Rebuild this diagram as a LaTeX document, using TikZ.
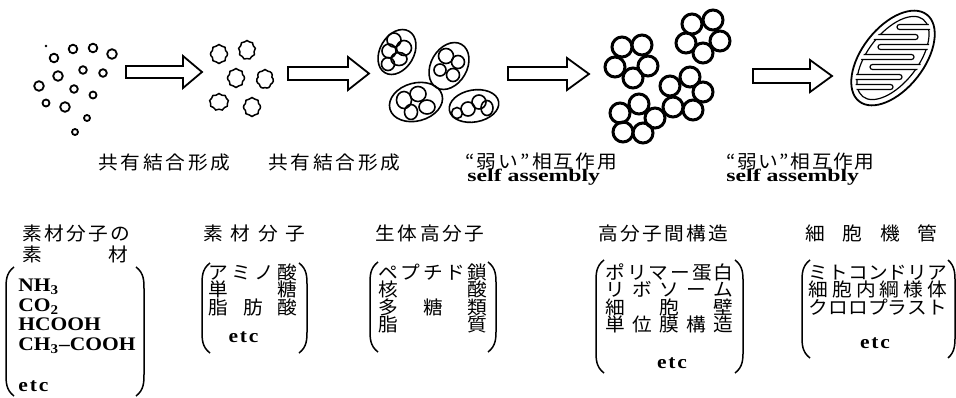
\documentclass[tikz,border=0pt]{standalone}
\usepackage{fontspec}
\setmainfont{Liberation Serif}[FakeStretch=1.12]
\newfontfamily\wideserif{Liberation Serif}[FakeStretch=1.35]
\newfontfamily\jp{Noto Sans CJK JP}[FakeStretch=1.06]
\usepackage{tikz}
\usetikzlibrary{shapes.symbols}

% spread the letters of a word over a given width
\makeatletter
\newcommand{\spreadbox}[2]{\makebox[#1][s]{\spread@#2\relax}}
\def\spread@#1{#1\@ifnextchar\relax{\@gobble}{\hfill\spread@}}
\makeatother

\begin{document}
\begin{tikzpicture}[x=0.5pt,y=-0.5pt,
  jtxt/.style={font=\jp\fontsize{9.3}{11}\selectfont, inner sep=0pt, anchor=base west},
  ltxt/.style={font=\bfseries\fontsize{9.6}{11}\selectfont, inner sep=0pt, anchor=base west},
  etxt/.style={font=\wideserif\bfseries\fontsize{8.8}{10}\selectfont, inner sep=0pt, anchor=base west},
  paren/.style={line width=0.75pt},
  dot/.style={line width=0.9pt},
  blob/.style={cloud, draw, cloud puffs=8, cloud puff arc=120, line width=0.75pt,
    inner sep=0pt, minimum width=8.5pt, minimum height=9.5pt},
  poly/.style={line width=0.8pt},
  ball/.style={line width=1.5pt},
  fatarrow/.style={line width=0.9pt, line join=miter},
  crista/.style={draw, fill=white, line width=0.6pt, rounded corners=1.25pt}]

\useasboundingbox (0,0) rectangle (956,397);

% small molecules
\fill (46,46) circle (1.3);
\draw[dot] (73,49) circle (4.3);
\draw[dot] (93,48) circle (4.3);
\draw[dot] (112,54) circle (4.8);
\draw[dot] (54,58) circle (4.3);
\draw[dot] (83,70) circle (3.8);
\draw[dot] (103,73) circle (3.8);
\draw[dot] (58,76) circle (4.8);
\draw[dot] (39,86) circle (4.8);
\draw[dot] (74,89) circle (3.8);
\draw[dot] (93,95) circle (3.5);
\draw[dot] (46,103) circle (3.5);
\draw[dot] (65,107) circle (4.8);
\draw[dot] (87,118) circle (3);
\draw[dot] (75,132) circle (3);

% monomers
\node[blob] (m1) at (219,54) {};
\node[blob, cloud puffs=9] (m2) at (247,50) {};
\node[blob] (m3) at (236,78) {};
\node[blob, cloud puffs=7] (m4) at (265,79) {};
\node[blob, cloud puffs=9, minimum width=9.5pt, minimum height=8.5pt] (m5) at (219,102) {};
\node[blob] (m6) at (252,107) {};

% polymers
\begin{scope}[shift={(397,52)}, poly]
  \draw[rotate=60] (0,0) ellipse (24 and 17);
  \draw (-3,-12) circle (7);
  \draw (7,-4) circle (7.5);
  \draw (-8,-1) circle (7);
  \draw (2,7) ellipse (8 and 6.5);
  \draw (-9,12) circle (6.5);
\end{scope}
\begin{scope}[shift={(449,66)}, poly]
  \draw[rotate=60] (0,0) ellipse (25 and 18);
  \draw (-3,-10) circle (7.5);
  \draw (9,-4) circle (6.5);
  \draw (-9,4) circle (6);
  \draw (4,9) circle (6.5);
\end{scope}
\begin{scope}[shift={(416,102)}, poly]
  \draw[rotate=15] (0,0) ellipse (27 and 19);
  \draw (-12,-2) ellipse (7.5 and 8.5);
  \draw (2,-8) ellipse (8 and 7.5);
  \draw (-5,10) ellipse (6.5 and 7.5);
  \draw (11,5) ellipse (8 and 7);
\end{scope}
\begin{scope}[shift={(474,106)}, poly]
  \draw[rotate=10] (0,0) ellipse (25 and 16);
  \draw (-6,3) circle (7);
  \draw (5,-4) circle (7);
  \draw (-17,7) circle (5.5);
  \draw (13,2) ellipse (6 and 7.5);
\end{scope}

% rings of polymers
\draw[ball] (622,47) circle (10);
\draw[ball] (642,45) circle (10);
\draw[ball] (648,66) circle (10);
\draw[ball] (633,78) circle (10);
\draw[ball] (615,67) circle (10);

\draw[ball] (692,24) circle (10);
\draw[ball] (713,20) circle (10);
\draw[ball] (720,41) circle (10);
\draw[ball] (703,53) circle (10);
\draw[ball] (686,43) circle (10);

\draw[ball] (670,86) circle (10);
\draw[ball] (690,77) circle (10);
\draw[ball] (703,92) circle (10);
\draw[ball] (693,110) circle (10);
\draw[ball] (673,107) circle (10);

\draw[ball] (620,113) circle (10);
\draw[ball] (639,104) circle (10);
\draw[ball] (655,118) circle (10);
\draw[ball] (643,133) circle (10);
\draw[ball] (623,132) circle (10);

% mitochondrion
\begin{scope}[shift={(893,58)}, rotate=52]
  \draw[line width=0.9pt] (0,0) ellipse (55 and 31);
  \draw[line width=0.6pt] (0,0) ellipse (49 and 25);
\end{scope}
\begin{scope}
  \clip[shift={(893,58)}, rotate=52] (0,0) ellipse (50.5 and 26.5);
  \path[crista] (960,24.5) -- (897,24.5) -- (897,29.5) -- (960,29.5);
  \path[crista] (820,34.5) -- (918,34.5) -- (918,39.5) -- (820,39.5);
  \path[crista] (960,44.5) -- (878,44.5) -- (878,49.5) -- (960,49.5);
  \path[crista] (820,54.5) -- (914,54.5) -- (914,59.5) -- (820,59.5);
  \path[crista] (960,64.5) -- (870,64.5) -- (870,69.5) -- (960,69.5);
  \path[crista] (820,74.5) -- (902,74.5) -- (902,79.5) -- (820,79.5);
  \path[crista] (820,84.5) -- (893,84.5) -- (893,89.5) -- (820,89.5);
\end{scope}

% arrows
\draw[fatarrow] (126,66) -- (183,66) -- (183,56) -- (202,72) -- (183,88) -- (183,78) -- (126,78) -- cycle;
\draw[fatarrow] (288,67) -- (348,67) -- (348,57) -- (369,73.5) -- (348,90) -- (348,80) -- (288,80) -- cycle;
\draw[fatarrow] (508,67) -- (567,67) -- (567,58) -- (589,74) -- (567,90) -- (567,80) -- (508,80) -- cycle;
\draw[fatarrow] (753,69) -- (810,69) -- (810,60) -- (832,76) -- (810,92) -- (810,83) -- (753,83) -- cycle;

% steps
\node[jtxt] (st1) at (98,169) {\spreadbox{66pt}{共有結合形成}};
\node[jtxt] (st2) at (268,169) {\spreadbox{66pt}{共有結合形成}};
\node[jtxt] (st3) at (465,168) {\spreadbox{76pt}{“弱い”相互作用}};
\node[etxt] (st3b) at (467,181) {self assembly};
\node[jtxt] (st4) at (726,168) {\spreadbox{74pt}{“弱い”相互作用}};
\node[etxt] (st4b) at (726,181) {self assembly};

% headings
\node[jtxt] (h1) at (22,240) {\spreadbox{54pt}{素材分子の}};
\node[jtxt] (h1b) at (22,261) {\spreadbox{53pt}{素材}};
\node[jtxt] (h2) at (203,240) {\spreadbox{51pt}{素材分子}};
\node[jtxt] (h3) at (375,240) {\spreadbox{54.5pt}{生体高分子}};
\node[jtxt] (h4) at (598,240) {\spreadbox{65pt}{高分子間構造}};
\node[jtxt] (h5) at (805,240) {\spreadbox{66pt}{細胞機管}};

% raw materials
\node[ltxt] (a1) at (18,291) {NH\textsubscript{3}};
\node[ltxt] (a2) at (18,311) {CO\textsubscript{2}};
\node[ltxt] (a3) at (18,330.5) {HCOOH};
\node[ltxt] (a4) at (18,350.5) {CH\textsubscript{3}--COOH};
\node[ltxt] (a5) at (18,391) {\spreadbox{15pt}{etc}};
\draw[paren] (14,267) .. controls (6,273) and (6,281) .. (6,289) -- (6,374) .. controls (6,382) and (6,390) .. (14,396);
\draw[paren] (136,267) .. controls (144,273) and (144,281) .. (144,289) -- (144,374) .. controls (144,382) and (144,390) .. (136,396);

% building blocks
\node[jtxt] (b1) at (208,279) {\spreadbox{44.5pt}{アミノ酸}};
\node[jtxt] (b2) at (208,296.5) {\spreadbox{44.5pt}{単糖}};
\node[jtxt] (b3) at (208,314) {\spreadbox{44.5pt}{脂肪酸}};
\node[ltxt, anchor=base] (b4) at (243.5,342) {\spreadbox{15pt}{etc}};
\draw[paren] (210,263) .. controls (202,269) and (202,277) .. (202,285) -- (202,331) .. controls (202,339) and (202,347) .. (210,353);
\draw[paren] (299,263) .. controls (307,269) and (307,277) .. (307,285) -- (307,331) .. controls (307,339) and (307,347) .. (299,353);

% biopolymers
\node[jtxt] (c1) at (378,279) {\spreadbox{54.5pt}{ペプチド鎖}};
\node[jtxt] (c2) at (378,296.5) {\spreadbox{54.5pt}{核酸}};
\node[jtxt] (c3) at (378,314) {\spreadbox{54.5pt}{多糖類}};
\node[jtxt] (c4) at (378,331.5) {\spreadbox{54.5pt}{脂質}};
\draw[paren] (378,262) .. controls (370,268) and (370,276) .. (370,284) -- (370,330) .. controls (370,338) and (370,346) .. (378,352);
\draw[paren] (488,262) .. controls (496,268) and (496,276) .. (496,284) -- (496,330) .. controls (496,338) and (496,346) .. (488,352);

% supramolecular structures
\node[jtxt] (d1) at (605,279) {\spreadbox{64pt}{ポリマー蛋白}};
\node[jtxt] (d2) at (605,296.5) {\spreadbox{64pt}{リボソーム}};
\node[jtxt] (d3) at (605,314) {\spreadbox{64pt}{細胞壁}};
\node[jtxt] (d4) at (605,331.5) {\spreadbox{64pt}{単位膜構造}};
\node[ltxt, anchor=base] (d5) at (672,368) {\spreadbox{15pt}{etc}};
\draw[paren] (604,260) .. controls (596,266) and (596,274) .. (596,282) -- (596,351) .. controls (596,359) and (596,367) .. (604,373);
\draw[paren] (735,260) .. controls (743,266) and (743,274) .. (743,282) -- (743,351) .. controls (743,359) and (743,367) .. (735,373);

% organelles
\node[jtxt] (e1) at (808,279) {\spreadbox{69.5pt}{ミトコンドリア}};
\node[jtxt] (e2) at (808,296.5) {\spreadbox{69.5pt}{細胞内綱様体}};
\node[jtxt] (e3) at (808,314) {\spreadbox{69.5pt}{クロロプラスト}};
\node[ltxt, anchor=base] (e4) at (875,348) {\spreadbox{15pt}{etc}};
\draw[paren] (810,260) .. controls (802,266) and (802,274) .. (802,282) -- (802,336) .. controls (802,344) and (802,352) .. (810,358);
\draw[paren] (948,260) .. controls (955,266) and (955,274) .. (955,282) -- (955,336) .. controls (955,344) and (955,352) .. (948,358);
\end{tikzpicture}
\end{document}
